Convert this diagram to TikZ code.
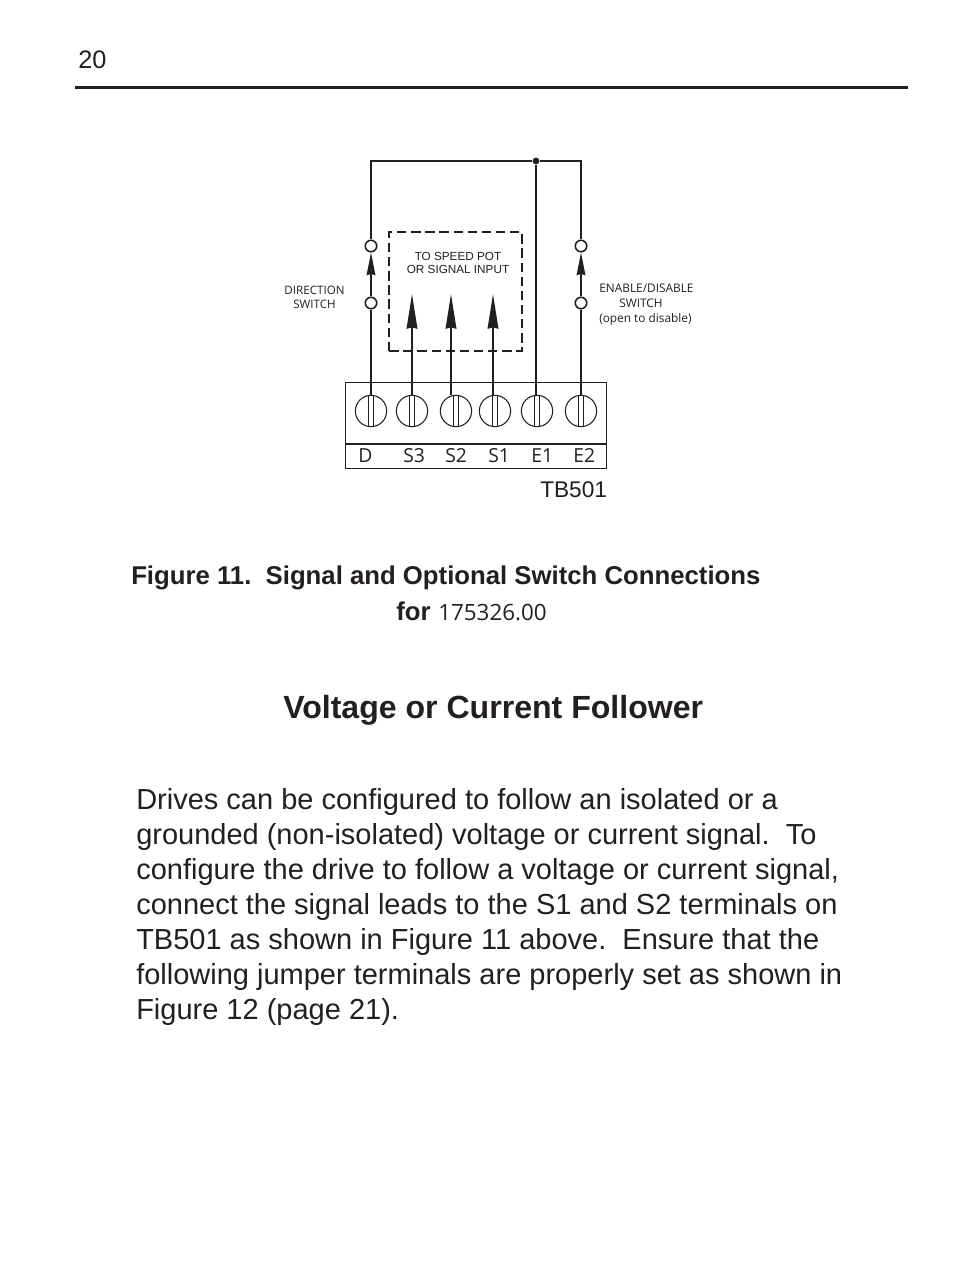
\documentclass[tikz,border=0pt]{standalone}
\usepackage{fontspec}
\setmainfont{Liberation Sans}
\newfontfamily\myriadfont{Open Sans}
\usetikzlibrary{arrows.meta}
\definecolor{inkblack}{RGB}{35,31,32}
\tikzset{
    wire/.style={
    draw=inkblack,line width=1.6pt
    },
    feed/.style={
    draw=inkblack,line width=1.3pt,-{Stealth[length=26pt,width=8pt,inset=1pt]}
    },
    swfeed/.style={
    draw=inkblack,line width=1.3pt,-{Stealth[length=17pt,width=6.5pt,inset=1pt]}
    },
    contact/.style={
    circle,draw=inkblack,fill=white,line width=1.2pt,inner sep=0pt,minimum size=8.6pt
    },
    screw/.style={
    circle,draw=inkblack,line width=0.8pt,inner sep=0pt,minimum size=23.5pt
    },
    junction/.style={
    circle,fill=inkblack,inner sep=0pt,minimum size=5.2pt
    },
    tiny/.style={
    font=\myriadfont\fontsize{8.7pt}{10.8pt}\selectfont,inner sep=0pt,align=left,text=inkblack
    },
    termlabel/.style={
    font=\myriadfont\fontsize{14.5pt}{16pt}\selectfont,inner sep=0pt,anchor=base west,text=inkblack
    },
    textline/.style={
    inner sep=0pt,anchor=base west,text=inkblack
    },
}
\begin{document}
\begin{tikzpicture}[x=0.75pt,y=-0.75pt]
   \useasboundingbox (0,0) rectangle (954,1270);
   \fill[white] (0,0) rectangle (954,1270);

   % page head
   \node[textline,font=\fontsize{19pt}{22pt}\selectfont] (pageno) at (78,69) {20};
   \coordinate (ruleL) at (75,87.5);
   \coordinate (ruleR) at (908,87.5);
   \draw[inkblack,line width=2.3pt] (ruleL) -- (ruleR);

   % terminal block
   \node[draw=inkblack,line width=0.8pt,minimum width=196pt,minimum height=64.8pt,inner sep=0pt] (block) at (476.25,425.75) {};
   \coordinate (divL) at (345.5,444);
   \coordinate (divR) at (607,444);
   \draw[inkblack,line width=0.8pt] (divL) -- (divR);

   \node[screw] (d) at (371,411) {};
   \node[screw] (s3) at (412,411) {};
   \node[screw] (s2) at (456,411) {};
   \node[screw] (s1) at (495,411) {};
   \node[screw] (e1) at (537,411) {};
   \node[screw] (e2) at (581,411) {};
   \foreach \t in {d,s3,s2,s1,e1,e2} {
     \draw[inkblack,line width=0.8pt] ([xshift=-2pt]\t.north) -- ([xshift=-2pt]\t.south);
     \draw[inkblack,line width=0.8pt] ([xshift=2pt]\t.north) -- ([xshift=2pt]\t.south);
   }

   \node[termlabel] (ld) at (358,462) {D};
   \node[termlabel] (ls3) at (403,462) {S3};
   \node[termlabel] (ls2) at (445,462) {S2};
   \node[termlabel] (ls1) at (488,462) {S1};
   \node[termlabel] (le1) at (531,462) {E1};
   \node[termlabel] (le2) at (573,462) {E2};
   \node[textline,font=\fontsize{17pt}{19pt}\selectfont] (tb) at (540,497) {TB501};

   % dashed box
   \node[draw=inkblack,line width=1.2pt,dash pattern=on 7pt off 3.6pt,minimum width=99.5pt,minimum height=89.5pt,inner sep=0pt] (pot) at (455.5,291.5) {};
   \node[inner sep=0pt,align=center,text=inkblack,font=\fontsize{8.8pt}{9.9pt}\selectfont] (potlabel) at (458,263) {TO SPEED POT\\OR SIGNAL INPUT};

   % signal arrows
   \coordinate (s3tip) at (412,294);
   \coordinate (s2tip) at (451,294);
   \coordinate (s1tip) at (493,294);
   \draw[feed] (s3) -- (s3tip);
   \draw[feed] (s2tip |- s2.north) -- (s2tip);
   \draw[feed] (s1tip |- s1.north) -- (s1tip);

   % switches
   \node[contact] (dup) at (371,246) {};
   \node[contact] (dlow) at (371,303) {};
   \node[contact] (eup) at (581,246) {};
   \node[contact] (elow) at (581,303) {};
   \node[junction] (jn) at (536,161) {};
   \draw[wire] (dup) |- (jn) -| (eup);
   \draw[wire] (jn) -- (jn |- e1.north);
   \draw[wire,line width=1.3pt] (dlow) -- (d);
   \draw[wire,line width=1.3pt] (elow) -- (e2);
   \draw[swfeed] (dlow) -- (dup);
   \draw[swfeed] (elow) -- (eup);

   \node[tiny,align=center] (dirlabel) at (314.5,297.5) {DIRECTION\\SWITCH};
   \node[tiny,anchor=north west,font=\myriadfont\fontsize{8.9pt}{11pt}\selectfont] (enlabel) at (599,284) {ENABLE/DISABLE\\\hspace*{15pt}SWITCH\\(open to disable)};

   % caption and text
   \node[textline,font=\bfseries\fontsize{19.3pt}{22pt}\selectfont] (cap) at (131,584) {Figure 11.\ \ Signal and Optional Switch Connections};
   \node[textline,font=\bfseries\fontsize{19.3pt}{22pt}\selectfont] (capfor) at (396,620) {for};
   \node[textline,font=\myriadfont\fontsize{16.8pt}{20pt}\selectfont] (capno) at (438,620) {175326.00};
   \node[textline,font=\bfseries\fontsize{24.05pt}{26pt}\selectfont] (head) at (283,718) {Voltage or Current Follower};
   \node[inner sep=0pt,anchor=north west,text=inkblack,align=left,font=\fontsize{21.75pt}{26.25pt}\selectfont] (body) at (136,788) {Drives can be configured to follow an isolated or a\\
     grounded (non-isolated) voltage or current signal.\ \ To\\
     configure the drive to follow a voltage or current signal,\\
     connect the signal leads to the S1 and S2 terminals on\\
     TB501 as shown in Figure 11 above.\ \ Ensure that the\\
     following jumper terminals are properly set as shown in\\
     Figure 12 (page 21).};
\end{tikzpicture}
\end{document}
